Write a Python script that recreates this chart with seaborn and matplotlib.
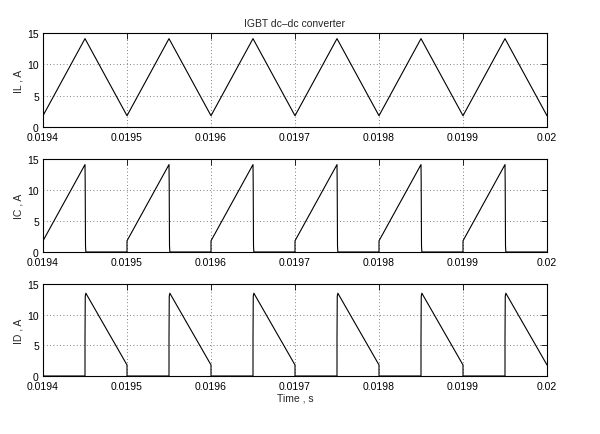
import matplotlib
matplotlib.use("Agg")
import matplotlib.pyplot as plt
import seaborn as sns

sns.set_style("white")
plt.rcParams['font.family'] = ['Liberation Sans', 'DejaVu Sans']

title = "IGBT dc\u2013dc converter"
ylabels = ["IL , A", "IC , A", "ID , A"]
xlabel = "Time , s"
xticks = [0.0194, 0.0195, 0.0196, 0.0197, 0.0198, 0.0199, 0.02]
xticklabels = ["0.0194", "0.0195", "0.0196", "0.0197", "0.0198", "0.0199", "0.02"]
yticks = [0, 5, 10, 15]

t_il = [0.0194, 0.01945, 0.0195, 0.01955, 0.0196, 0.01965, 0.0197,
        0.01975, 0.0198, 0.01985, 0.0199, 0.01995, 0.02]
il = [1.8, 14.1, 1.8, 14.1, 1.8, 14.1, 1.8, 14.1, 1.8, 14.1, 1.8, 14.1, 1.8]

t_ic = [0.0194, 0.01945, 0.0194502, 0.0194506, 0.019451, 0.0195,
        0.0195, 0.01955, 0.0195502, 0.0195506, 0.019551, 0.0196,
        0.0196, 0.01965, 0.0196502, 0.0196506, 0.019651, 0.0197,
        0.0197, 0.01975, 0.0197502, 0.0197506, 0.019751, 0.0198,
        0.0198, 0.01985, 0.0198502, 0.0198506, 0.019851, 0.0199,
        0.0199, 0.01995, 0.0199502, 0.0199506, 0.019951, 0.02]
ic = [1.8, 14.1, 11.5, 1.0, 0.0, 0.0,
      1.8, 14.1, 11.5, 1.0, 0.0, 0.0,
      1.8, 14.1, 11.5, 1.0, 0.0, 0.0,
      1.8, 14.1, 11.5, 1.0, 0.0, 0.0,
      1.8, 14.1, 11.5, 1.0, 0.0, 0.0,
      1.8, 14.1, 11.5, 1.0, 0.0, 0.0]

t_id = [0.0194, 0.01945, 0.01945, 0.0194503, 0.019451, 0.0195, 0.0195,
        0.01955, 0.01955, 0.0195503, 0.019551, 0.0196, 0.0196,
        0.01965, 0.01965, 0.0196503, 0.019651, 0.0197, 0.0197,
        0.01975, 0.01975, 0.0197503, 0.019751, 0.0198, 0.0198,
        0.01985, 0.01985, 0.0198503, 0.019851, 0.0199, 0.0199,
        0.01995, 0.01995, 0.0199503, 0.019951, 0.02]
id_ = [0.0, 0.0, 6.0, 13.0, 13.5, 1.8, 0.0,
       0.0, 6.0, 13.0, 13.5, 1.8, 0.0,
       0.0, 6.0, 13.0, 13.5, 1.8, 0.0,
       0.0, 6.0, 13.0, 13.5, 1.8, 0.0,
       0.0, 6.0, 13.0, 13.5, 1.8, 0.0,
       0.0, 6.0, 13.0, 13.5, 1.8]

fig = plt.figure(figsize=(6, 4.35), dpi=100)
fig.patch.set_facecolor("white")
L, W = 43 / 600, 504 / 600
boxes = [(34, 128), (160, 253), (285, 377)]
series = [(t_il, il), (t_ic, ic), (t_id, id_)]
fs = 7.5

for i, ((top, bot), (tx, ty)) in enumerate(zip(boxes, series)):
    ax = fig.add_axes([L, 1 - bot / 435, W, (bot - top) / 435])
    sns.lineplot(x=tx, y=ty, ax=ax, estimator=None, sort=False,
                 color="black", linewidth=0.8)
    ax.set_xlim(0.0194, 0.02)
    ax.set_ylim(0, 15)
    ax.set_xticks(xticks)
    ax.set_xticklabels(xticklabels, fontsize=fs)
    ax.set_yticks(yticks)
    ax.set_yticklabels([str(v) for v in yticks], fontsize=fs)
    ax.tick_params(direction="in", length=4, width=0.6, top=True, right=True,
                   colors="black")
    ax.tick_params(axis="x", pad=3.5)
    ax.tick_params(axis="y", pad=3)
    ax.grid(True, linestyle=(0, (1, 3)), linewidth=0.6, color="#555555")
    for s in ax.spines.values():
        s.set_visible(True)
        s.set_color("black")
        s.set_linewidth(0.8)
    ax.set_ylabel(ylabels[i], fontsize=fs, labelpad=3)
    ax.set_xlabel("")
    if i == 0:
        ax.set_title(title, fontsize=fs, pad=5)
    if i == 2:
        ax.set_xlabel(xlabel, fontsize=fs, labelpad=1)

fig.savefig("out.png", dpi=100, facecolor="white")
